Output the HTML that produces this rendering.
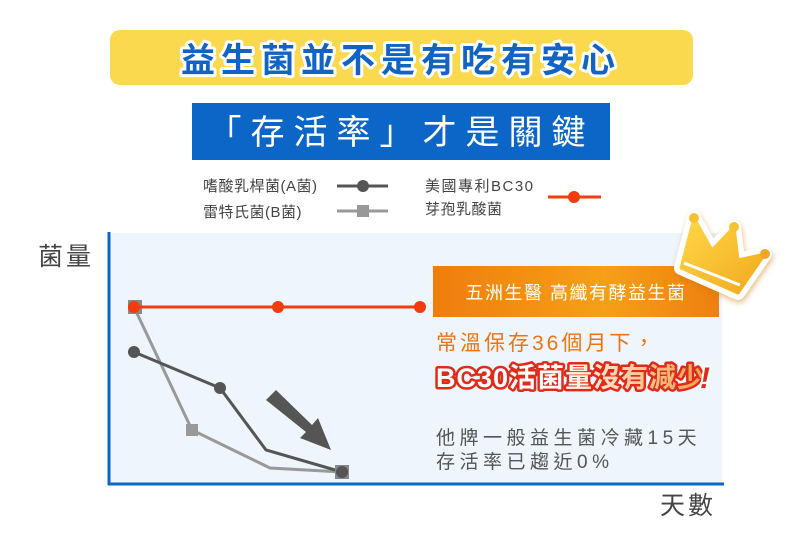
<!DOCTYPE html>
<html><head><meta charset="utf-8"><style>
html,body{margin:0;padding:0;background:#fff;}
svg{display:block;}
text{font-family:"Liberation Sans","Noto Sans CJK TC",sans-serif;}
</style></head><body>
<svg width="800" height="533" viewBox="0 0 800 533" xmlns="http://www.w3.org/2000/svg">
<defs>
<linearGradient id="og" x1="0" x2="1" y1="0" y2="0"><stop offset="0" stop-color="#ef7d0d"/><stop offset="0.6" stop-color="#f5a016"/><stop offset="1" stop-color="#ee7f10"/></linearGradient>
<linearGradient id="tg" x1="0" x2="1"><stop offset="0" stop-color="#fff"/><stop offset="0.45" stop-color="#fff"/><stop offset="1" stop-color="#f7a04a"/></linearGradient>
<linearGradient id="cg" x1="0" x2="1" y1="0" y2="1"><stop offset="0" stop-color="#ffd84a"/><stop offset="1" stop-color="#f2a81c"/></linearGradient>
</defs>
<rect x="110" y="30" width="583" height="55" rx="10" fill="#fbd94e"/>
<text x="401" y="72" text-anchor="middle" font-size="34" font-weight="bold" fill="#1164c4" stroke="#fff" stroke-width="6" stroke-linejoin="round" paint-order="stroke" letter-spacing="6">益生菌並不是有吃有安心</text>
<rect x="192" y="103" width="418" height="57" fill="#0c66c8"/>
<text x="401" y="144" text-anchor="middle" font-size="34" fill="#fff" letter-spacing="9">「存活率」才是關鍵</text>
<g font-size="15" fill="#444" letter-spacing="0.5">
<text x="203" y="191">嗜酸乳桿菌(A菌)</text>
<text x="203" y="217">雷特氏菌(B菌)</text>
<text x="425" y="191" letter-spacing="1.5">美國專利BC30</text>
<text x="425" y="214">芽孢乳酸菌</text>
</g>
<line x1="337" y1="186" x2="388" y2="186" stroke="#555" stroke-width="3"/><circle cx="363" cy="186" r="6" fill="#555"/>
<line x1="337" y1="211" x2="388" y2="211" stroke="#999" stroke-width="3"/><rect x="357" y="205" width="12" height="12" fill="#999"/>
<line x1="548" y1="197" x2="601" y2="197" stroke="#f13c0c" stroke-width="3"/><circle cx="574" cy="197" r="6" fill="#f13c0c"/>
<text x="38" y="265" font-size="25" fill="#444" letter-spacing="3">菌量</text>
<text x="660" y="514" font-size="25" fill="#444" letter-spacing="3">天數</text>
<rect x="110" y="233" width="612" height="251" fill="#eef5fc"/>
<line x1="109" y1="232" x2="109" y2="485" stroke="#0c66c8" stroke-width="3"/>
<line x1="108" y1="484" x2="724" y2="484" stroke="#0c66c8" stroke-width="3"/>
<polyline points="134,307 192,430 270,468 342,472" fill="none" stroke="#999" stroke-width="3"/>
<rect x="186" y="424" width="12" height="12" fill="#999"/>
<polyline points="134,352 220,388 266,450 342,472" fill="none" stroke="#555" stroke-width="3"/>
<circle cx="134" cy="352" r="6" fill="#555"/><circle cx="220" cy="388" r="6" fill="#555"/>
<rect x="335" y="465" width="14" height="14" fill="#888"/><circle cx="342" cy="472" r="6" fill="#555"/>
<rect x="128" y="300" width="14" height="14" fill="#888"/>
<line x1="134" y1="307" x2="420" y2="307" stroke="#f13c0c" stroke-width="3"/>
<circle cx="134" cy="307" r="6" fill="#f13c0c"/><circle cx="278" cy="307" r="6" fill="#f13c0c"/><circle cx="420" cy="307" r="6" fill="#f13c0c"/>
<polygon points="266,400 276,390 312,425 318,418 331,450 300,438 306,432" fill="#555"/>
<rect x="433" y="266" width="286" height="51" fill="url(#og)"/>
<text x="576" y="299" text-anchor="middle" font-size="18" fill="#fff" letter-spacing="1.5">五洲生醫 高纖有酵益生菌</text>
<text x="436" y="350" font-size="21" fill="#ef7410" letter-spacing="3">常溫保存36個月下，</text>
<text x="436" y="387" font-size="27" font-weight="bold" fill="url(#tg)" stroke="#e02a1a" stroke-width="5" stroke-linejoin="round" paint-order="stroke" letter-spacing="1">BC30活菌量沒有減少</text>
<text x="700" y="388" font-size="30" font-weight="bold" font-style="italic" fill="#e02a1a" stroke="#fff" stroke-width="4" paint-order="stroke">!</text>
<text x="436" y="444" font-size="19" fill="#555" letter-spacing="4.5">他牌一般益生菌冷藏15天</text>
<text x="436" y="468" font-size="19" fill="#555" letter-spacing="4.5">存活率已趨近0%</text>
<g style="filter:drop-shadow(1px 3px 3px rgba(200,120,0,0.45))">
<polygon points="694,218 712,250 734,227 738,260 765,254 738,293 681,268" fill="#fff" stroke="#fff" stroke-width="14" stroke-linejoin="round"/>
</g>
<polygon points="694,218 712,250 734,227 738,260 765,254 738,293 681,268" fill="url(#cg)" stroke="url(#cg)" stroke-width="3" stroke-linejoin="round"/>
<line x1="684" y1="263" x2="740" y2="285" stroke="#fff" stroke-width="3"/>
<circle cx="694" cy="218" r="5" fill="#f5c232"/><circle cx="734" cy="227" r="5" fill="#f5c232"/><circle cx="765" cy="254" r="5" fill="#f0a628"/>
</svg>
</body></html>
